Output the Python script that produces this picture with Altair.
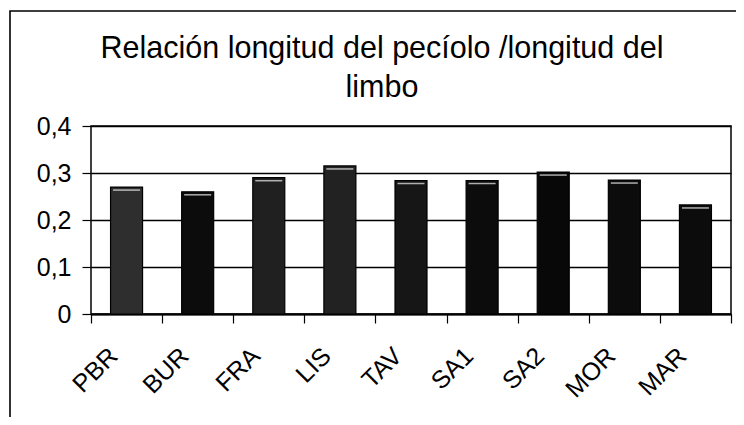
import altair as alt
import pandas as pd

categories = ["PBR", "BUR", "FRA", "LIS", "TAV", "SA1", "SA2", "MOR", "MAR"]
values = [0.27, 0.26, 0.29, 0.315, 0.284, 0.284, 0.302, 0.285, 0.232]
y_ticks = [0, 0.1, 0.2, 0.3, 0.4]
title_lines = ["Relación longitud del pecíolo /longitud del", "limbo"]

bar_colors = ["#2e2e2e", "#0c0c0c", "#202020", "#222222", "#161616",
              "#0c0c0c", "#080808", "#0c0c0c", "#0c0c0c"]

df = pd.DataFrame({"cat": categories, "val": values})
one = pd.DataFrame({"a": [0]})
FONT = "Liberation Sans"

x_enc = alt.X(
    "cat:N", sort=categories, title=None,
    scale=alt.Scale(paddingInner=0, paddingOuter=0),
    axis=alt.Axis(
        tickBand="extent", tickSize=9, tickColor="black", tickWidth=1.2,
        domainColor="black", domainWidth=2,
        labelAngle=-45, labelFontSize=25, labelFont=FONT, labelColor="black",
        labelPadding=20, labelOffset=-22, grid=False,
    ),
)

y_enc = alt.Y(
    "val:Q", title=None,
    scale=alt.Scale(domain=[0, 0.4], nice=False),
    axis=alt.Axis(
        values=y_ticks, grid=True, gridColor="black", gridWidth=1.3, gridOpacity=1,
        domain=False, tickSize=9, tickColor="black", tickWidth=1.2,
        labelFontSize=25, labelFont=FONT, labelColor="black", labelPadding=11,
        labelExpr="datum.value == 0 ? '0' : replace(format(datum.value, '.1f'), '.', ',')",
    ),
)

bars = alt.Chart(df).mark_bar(size=32, stroke="black", strokeWidth=1.2).encode(
    x=x_enc, y=y_enc,
    color=alt.Color("cat:N", scale=alt.Scale(domain=categories, range=bar_colors), legend=None),
)

highlight = alt.Chart(df).mark_tick(size=27, thickness=1.5, color="#f2f2f2", yOffset=3).encode(
    x=alt.X("cat:N", sort=categories), y=alt.Y("val:Q"),
)

frame = alt.Chart(one).mark_rect(
    filled=False, stroke="black", strokeWidth=1.6
).encode(
    x=alt.value(-81), x2=alt.value(720), y=alt.value(-115), y2=alt.value(400)
)

title1 = alt.Chart(one).mark_text(
    font=FONT, fontSize=30.5, color="black", align="center", baseline="alphabetic"
).encode(x=alt.value(291), y=alt.value(-68.5), text=alt.value(title_lines[0]))

title2 = alt.Chart(one).mark_text(
    font=FONT, fontSize=30.5, color="black", align="center", baseline="alphabetic"
).encode(x=alt.value(291), y=alt.value(-29.5), text=alt.value(title_lines[1]))

chart = alt.layer(frame, bars, highlight, title1, title2).properties(
    width=640, height=188,
    padding={"left": 83, "top": 118, "right": 5, "bottom": 103},
    autosize=alt.AutoSizeParams(type="none"),
    background="white",
).configure_view(stroke="black", strokeWidth=1.5)

chart.save("out.html", embed_options={"renderer": "svg", "actions": False})
